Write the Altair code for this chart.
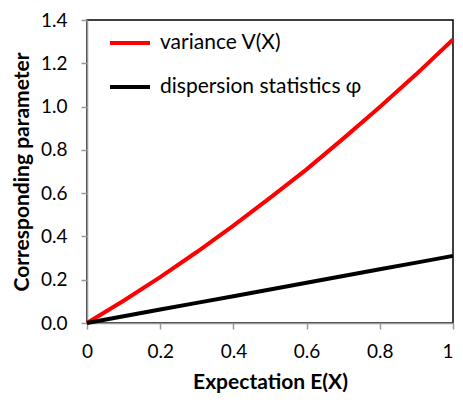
import altair as alt
import pandas as pd

expectation = [0.0, 0.1, 0.2, 0.3, 0.4, 0.5, 0.6, 0.7, 0.8, 0.9, 1.0]
variance = [0.0, 0.103, 0.212, 0.328, 0.45, 0.578, 0.71, 0.852, 0.998, 1.15, 1.31]
dispersion = [0.0, 0.031, 0.062, 0.093, 0.124, 0.155, 0.186, 0.217, 0.248, 0.279, 0.31]
series_names = ["variance V(X)", "dispersion statistics φ"]
series_colors = ["#ff0000", "#000000"]
y_ticks = [0.0, 0.2, 0.4, 0.6, 0.8, 1.0, 1.2, 1.4]
x_ticks = [0.0, 0.2, 0.4, 0.6, 0.8, 1.0]

rows = []
for name, vals in zip(series_names, [variance, dispersion]):
    for e, v in zip(expectation, vals):
        rows.append({"E": e, "value": v, "series": name})
df = pd.DataFrame(rows)

FONT = "Lato"

chart = alt.Chart(df).mark_line(strokeWidth=4).encode(
    x=alt.X("E:Q", title="Expectation E(X)",
            scale=alt.Scale(domain=[0, 1], nice=False),
            axis=alt.Axis(values=x_ticks, format="~g", grid=False, labelPadding=13,
                          labelAlign={"condition": {"test": "datum.value == 1", "value": "right"},
                                      "value": "center"},
                          titlePadding=10)),
    y=alt.Y("value:Q", title="Corresponding parameter",
            scale=alt.Scale(domain=[0, 1.4], nice=False),
            axis=alt.Axis(values=y_ticks, format=".1f", grid=False, labelPadding=14,
                          titlePadding=8)),
    color=alt.Color("series:N", sort=series_names,
                    scale=alt.Scale(domain=series_names, range=series_colors),
                    legend=alt.Legend(title=None, orient="none", legendX=21, legendY=1,
                                      symbolType="stroke", symbolSize=1600,
                                      symbolStrokeWidth=4, labelFontSize=21,
                                      labelFont=FONT, labelColor="#000000",
                                      labelLimit=0, rowPadding=12, labelOffset=8)),
    order=alt.Order("E:Q"),
).properties(
    width=366, height=303,
    autosize=alt.AutoSizeParams(type="none"),
    padding={"left": 79, "top": 12, "right": 2, "bottom": 72},
).configure_view(
    stroke="#000000", strokeWidth=1.5
).configure_axis(
    domainColor="#999999", domainWidth=1.5, tickColor="#999999", tickWidth=1.5,
    tickSize=6, labelFont=FONT, labelFontSize=19, labelColor="#000000",
    titleFont=FONT, titleFontSize=21, titleFontWeight="bold", titleColor="#000000"
)

chart.save("out.html", embed_options={"renderer": "svg", "actions": False})
